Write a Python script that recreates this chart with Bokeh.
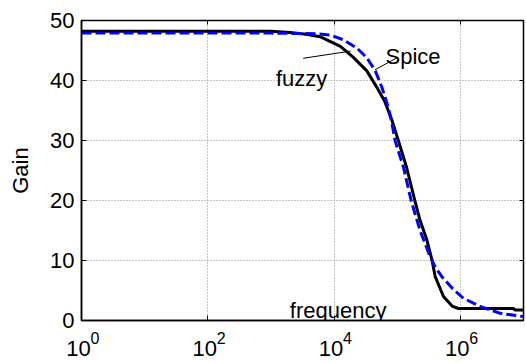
from bokeh.plotting import figure
from bokeh.models import (FixedTicker, Label, CustomJSTickFormatter, Range1d,
                          LinearAxis, LogAxis)
from bokeh.embed import file_html
from bokeh.resources import INLINE

# ---- data ----
fuzzy_freq = [1, 1e3, 2e3, 3.6e3, 6e3, 1.26e4, 2e4, 3.3e4, 4.8e4, 6.3e4, 8.3e4,
              1.05e5, 1.41e5, 1.9e5, 2.3e5, 2.95e5, 3.55e5, 4e5, 5.4e5, 7.4e5,
              9.3e5, 6.9e6, 7.4e6, 1e7]
fuzzy_gain = [48.2, 48.2, 48.0, 47.7, 47.3, 45.7, 43.9, 41.6, 38.8, 36.6, 33.3,
              29.9, 25.5, 20.0, 16.7, 13.4, 10.1, 7.3, 4.0, 2.4,
              2.0, 2.0, 1.75, 1.75]

spice_freq = [1, 1e3, 5e3, 8.5e3, 1.4e4, 2.3e4, 3.3e4, 4.5e4, 5.75e4, 7.2e4,
              8.1e4, 9.3e4, 1.26e5, 1.66e5, 2.3e5, 3.16e5, 4e5, 5.1e5, 7.4e5,
              1.12e6, 2.1e6, 4.3e6, 1e7]
spice_gain = [47.9, 47.9, 47.8, 47.6, 46.8, 45.4, 43.8, 41.6, 38.8, 35.5,
              33.3, 29.9, 25.5, 20.0, 15.0, 11.2, 8.9, 7.3, 5.4,
              3.7, 2.3, 1.2, 0.65]

x_ticks = [1, 1e2, 1e4, 1e6]
x_tick_base = ["10", "10", "10", "10"]
x_tick_exp = ["0", "2", "4", "6"]
y_ticks = [0, 10, 20, 30, 40, 50]

FONT = "Liberation Sans"
NBSP = "\u00a0"

p = figure(width=526, height=363, x_axis_type="log",
           x_range=Range1d(1, 1e7), y_range=Range1d(0, 50),
           output_backend="svg", toolbar_location=None,
           min_border_left=81, min_border_right=3,
           min_border_top=20, min_border_bottom=43)
p.background_fill_color = "white"
p.border_fill_color = "white"
p.outline_line_color = "black"
p.outline_line_width = 1.5
p.outline_line_alpha = 1.0

blank = CustomJSTickFormatter(code="return ''")

# x axis 1: real ticks (inward) + superscript exponents
exp_labels = {float(t): NBSP * 6 + e for t, e in zip(x_ticks, x_tick_exp)}
xa = p.xaxis[0]
xa.ticker = FixedTicker(ticks=x_ticks, minor_ticks=[])
xa.major_label_overrides = exp_labels
xa.major_tick_in = 5
xa.major_tick_out = 0
xa.minor_tick_in = 0
xa.minor_tick_out = 0
xa.axis_line_width = 1.5
xa.axis_line_color = "black"
xa.major_tick_line_color = "black"
xa.major_label_text_font = FONT
xa.major_label_text_font_size = "16px"
xa.major_label_text_color = "black"
xa.major_label_standoff = 9

# x axis 2: base "10" of each tick label
base_labels = {float(t): b + NBSP for t, b in zip(x_ticks, x_tick_base)}
xb = LogAxis(ticker=FixedTicker(ticks=x_ticks, minor_ticks=[]),
             major_label_overrides=base_labels,
             major_tick_in=0, major_tick_out=0, minor_tick_in=0,
             minor_tick_out=0, axis_line_color=None,
             major_label_text_font=FONT, major_label_text_font_size="22px",
             major_label_text_color="black", major_label_standoff=-14)
p.add_layout(xb, "below")

ya = p.yaxis[0]
ya.ticker = FixedTicker(ticks=y_ticks, minor_ticks=[])
ya.major_tick_in = 5
ya.major_tick_out = 0
ya.minor_tick_in = 0
ya.minor_tick_out = 0
ya.axis_line_width = 1.5
ya.axis_line_color = "black"
ya.major_tick_line_color = "black"
ya.major_label_text_font = FONT
ya.major_label_text_font_size = "22px"
ya.major_label_text_color = "black"
ya.major_label_standoff = 7
ya.axis_label = "Gain"
ya.axis_label_text_font = FONT
ya.axis_label_text_font_size = "22px"
ya.axis_label_text_font_style = "normal"
ya.axis_label_text_color = "black"
ya.axis_label_standoff = 14

# box ticks on top and right (no labels)
top = LogAxis(ticker=FixedTicker(ticks=x_ticks, minor_ticks=[]),
              formatter=blank, major_tick_in=4, major_tick_out=0,
              minor_tick_in=0, minor_tick_out=0, major_label_standoff=0,
              axis_line_color=None, major_tick_line_color="black")
right = LinearAxis(ticker=FixedTicker(ticks=y_ticks, minor_ticks=[]),
                   formatter=blank, major_tick_in=4, major_tick_out=0,
                   minor_tick_in=0, minor_tick_out=0, major_label_standoff=0,
                   axis_line_color=None, major_tick_line_color="black")
p.add_layout(top, "above")
p.add_layout(right, "right")

# grid
for g in (p.xgrid[0], p.ygrid[0]):
    g.grid_line_color = "#8c8c8c"
    g.grid_line_dash = "1 2"
    g.grid_line_width = 1

# curves
p.line(fuzzy_freq, fuzzy_gain, line_color="black", line_width=3)
p.line(spice_freq, spice_gain, line_color="#0000ff", line_width=3,
       line_dash="10 4")

# annotations
p.add_layout(Label(x=10**3.08, y=40.4, text="fuzzy", text_font=FONT,
                   text_font_size="22px", text_align="left",
                   text_baseline="alphabetic", text_color="black"))
p.add_layout(Label(x=10**5.25, y=44.0, text="Spice", text_font=FONT,
                   text_font_size="22px", text_align="center",
                   text_baseline="alphabetic", text_color="black"))
p.add_layout(Label(x=10**3.30, y=1.6, text="frequency", text_font=FONT,
                   text_font_size="22px", text_align="left",
                   text_baseline="alphabetic", text_color="black"))
p.segment(x0=[10**3.51, 10**5.0], y0=[43.7, 43.8],
          x1=[10**4.26, 10**4.65], y1=[44.9, 41.8],
          line_color="black", line_width=1)

open("out.html", "w").write(file_html(p, INLINE))
